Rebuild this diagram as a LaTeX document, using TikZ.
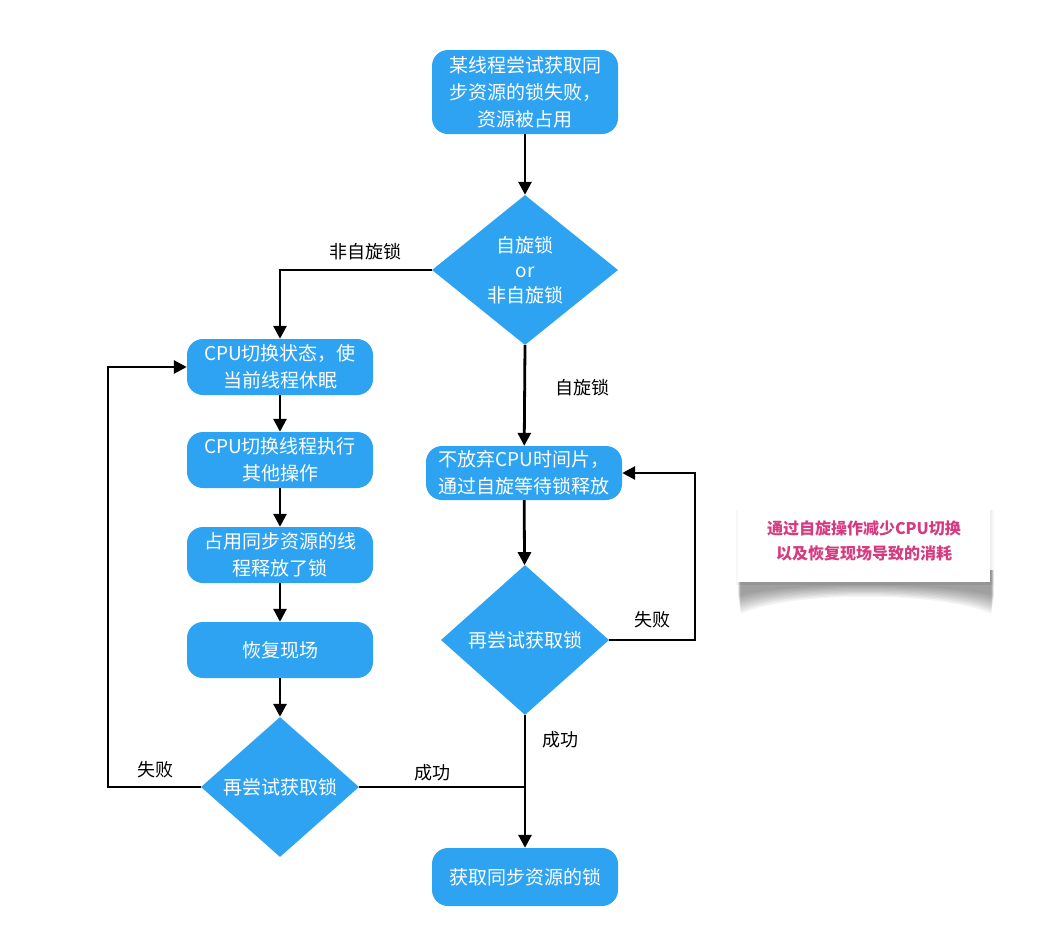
\documentclass[tikz,border=0pt]{standalone}
\usepackage{fontspec}
\setmainfont{Noto Sans CJK SC}
\usetikzlibrary{shapes.geometric,arrows.meta}
\definecolor{flowblue}{RGB}{46,163,242}
\definecolor{notepink}{RGB}{214,58,128}
\begin{document}
\begin{tikzpicture}[x=1pt,y=-1pt,
  stepbox/.style={rectangle, rounded corners=16pt, fill=flowblue, text=white, align=center,
    minimum width=186pt, inner sep=0pt, font=\fontsize{19}{27}\selectfont},
  decision/.style={diamond, fill=flowblue, text=white, align=center, inner sep=0pt,
    font=\fontsize{19}{25}\selectfont},
  arr/.style={line width=2.8pt, -{Triangle[length=13pt,width=13pt]}},
  ln/.style={line width=2.8pt},
  lbl/.style={font=\fontsize{18}{22}\selectfont, text=black, inner sep=0pt}]
\fill[white] (0,0) rectangle (1060,924);

% nodes
\node[stepbox, minimum height=84pt] (start) at (525,92) {某线程尝试获取同\\步资源的锁失败，\\资源被占用};
\node[decision, minimum width=186pt, minimum height=150pt] (d1) at (525,270) {自旋锁\\or\\非自旋锁};

\node[stepbox, minimum height=56pt] (cpu1) at (280,367) {CPU切换状态，使\\当前线程休眠};
\node[stepbox, minimum height=56pt] (cpu2) at (280,460) {CPU切换线程执行\\其他操作};
\node[stepbox, minimum height=56pt] (rel) at (280,555) {占用同步资源的线\\程释放了锁};
\node[stepbox, minimum height=56pt] (rec) at (280,650) {恢复现场};
\node[decision, minimum width=158pt, minimum height=140pt] (d2) at (280,787) {再尝试获取锁};

\node[stepbox, minimum width=196pt, minimum height=54pt] (spin) at (524,473) {不放弃CPU时间片，\\通过自旋等待锁释放};
\node[decision, minimum width=168pt, minimum height=150pt] (d3) at (525,640) {再尝试获取锁};
\node[stepbox, minimum height=58pt] (final) at (525,877) {获取同步资源的锁};

\coordinate (lf) at (108,787);
\coordinate (rf) at (695,640);
\coordinate (join) at (525,787);

% connectors
\draw[arr] (start) -- (d1);
\draw[arr] (d1.west) -| (cpu1.north);
\draw[arr] (cpu1) -- (cpu2);
\draw[arr] (cpu2) -- (rel);
\draw[arr] (rel) -- (rec);
\draw[arr] (rec) -- (d2);
\draw[arr] (d2.west) -- (lf) |- (cpu1.west);
\draw[ln] (d2.east) -- (join);
\draw[arr] (d1.south) -- (spin);
\draw[arr] (spin) -- (d3);
\draw[arr] (d3.east) -- (rf) |- (spin.east);
\draw[arr] (d3.south) -- (final);

% labels
\node[lbl] (l1) at (365,252) {非自旋锁};
\node[lbl] (l2) at (582,388) {自旋锁};
\node[lbl] (l3) at (652,620) {失败};
\node[lbl] (l4) at (560,740) {成功};
\node[lbl] (l5) at (155,770) {失败};
\node[lbl] (l6) at (432,773) {成功};

% note with curled soft shadow
\foreach \d in {18,16,14,12,10,8,6,4,2,0}{
  \fill[black, opacity=0.045] (738+\d*0.15,570) -- (738+\d*0.15,596+\d) .. controls (790,582+\d*0.5) and (940,582+\d*0.5) .. (994-\d*0.15,596+\d) -- (994-\d*0.15,570) -- cycle;
}
\foreach \d in {4,2}{
  \fill[black, opacity=0.03] (740-\d,510) rectangle (990+\d,585);
}
\node[rectangle, fill=white, minimum width=252pt, minimum height=82pt, inner sep=0pt,
  text=notepink, align=center, font=\bfseries\fontsize{16}{25}\selectfont] (note) at (864,541)
  {通过自旋操作减少CPU切换\\以及恢复现场导致的消耗};
\end{tikzpicture}
\end{document}
